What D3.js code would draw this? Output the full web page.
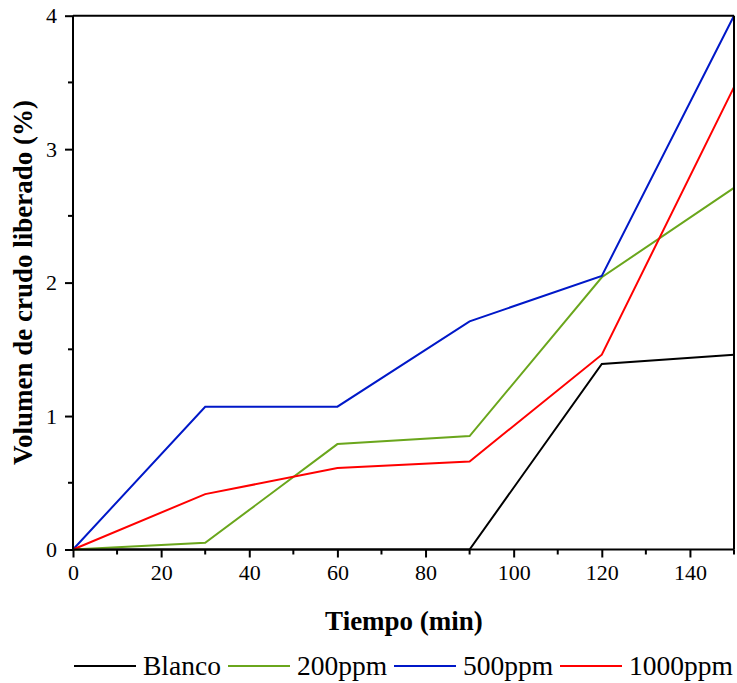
<!DOCTYPE html>
<html>
<head>
<meta charset="utf-8">
<script src="https://cdn.jsdelivr.net/npm/d3@7"></script>
<style>
  body { margin: 0; background: #fff; }
  svg text { font-family: "Liberation Serif", "Times New Roman", serif; }
</style>
</head>
<body>
<svg id="svg"></svg>
<script>
// time points (min)
let tiempo = [0, 30, 60, 90, 120, 150];
let blanco = [0, 0, 0, 0, 1.39, 1.46];
let ppm200 = [0, 0.05, 0.79, 0.85, 2.04, 2.71];
let ppm500 = [0, 1.07, 1.07, 1.71, 2.05, 4.0];
let ppm1000 = [0, 0.415, 0.61, 0.66, 1.46, 3.465];
let seriesNames = ["Blanco", "200ppm", "500ppm", "1000ppm"];
let seriesColors = ["#000000", "#6aa61c", "#0018c8", "#ff0000"];
let xTicks = [0, 20, 40, 60, 80, 100, 120, 140];
let yTicks = [0, 1, 2, 3, 4];

function sketch() {
    let svg = d3.select("#svg")
        .attr("width", 737)
        .attr("height", 683);

    let marginLeft = 73, marginTop = 15.7;
    let plotW = 661, plotH = 533.8;

    let x = d3.scaleLinear().domain([0, 150]).range([marginLeft, marginLeft + plotW]);
    let y = d3.scaleLinear().domain([0, 4]).range([marginTop + plotH, marginTop]);

    let g = svg.append("g");

    // lines
    let allSeries = [blanco, ppm200, ppm500, ppm1000];
    let line = d3.line()
        .x((d, i) => x(tiempo[i]))
        .y((d) => y(d));

    g.selectAll("path.serie")
        .data(allSeries)
        .enter()
        .append("path")
        .attr("class", "serie")
        .attr("d", (d) => line(d))
        .attr("fill", "none")
        .attr("stroke", (d, i) => seriesColors[i])
        .attr("stroke-width", 2);

    // box top + right
    g.append("line")
        .attr("x1", x(0)).attr("x2", x(150))
        .attr("y1", y(4)).attr("y2", y(4))
        .attr("stroke", "black").attr("stroke-width", 2);
    g.append("line")
        .attr("x1", x(150)).attr("x2", x(150))
        .attr("y1", y(4)).attr("y2", y(0))
        .attr("stroke", "black").attr("stroke-width", 2);

    // minor ticks
    let xMinor = d3.range(10, 151, 20);
    let yMinor = [0.5, 1.5, 2.5, 3.5];

    let xAxis = d3.axisBottom(x).tickValues(xTicks).tickSize(8).tickPadding(7).tickFormat(d3.format("d"));
    let gx = g.append("g").attr("transform", `translate(0,${y(0)})`).call(xAxis);
    gx.append("g").selectAll("line")
        .data(xMinor).enter().append("line")
        .attr("x1", (d) => x(d)).attr("x2", (d) => x(d))
        .attr("y1", 0).attr("y2", 5)
        .attr("stroke", "black").attr("stroke-width", 2);

    let yAxis = d3.axisLeft(y).tickValues(yTicks).tickSize(8).tickPadding(8).tickFormat(d3.format("d"));
    let gy = g.append("g").attr("transform", `translate(${x(0)},0)`).call(yAxis);
    gy.append("g").selectAll("line")
        .data(yMinor).enter().append("line")
        .attr("x1", 0).attr("x2", -5)
        .attr("y1", (d) => y(d)).attr("y2", (d) => y(d))
        .attr("stroke", "black").attr("stroke-width", 2);

    [gx, gy].forEach((ax) => {
        ax.select(".domain").attr("stroke-width", 2);
        ax.selectAll(".tick line").attr("stroke-width", 2);
        ax.selectAll(".tick text")
            .attr("font-family", "Liberation Serif")
            .attr("font-size", 22)
            .attr("fill", "black");
    });
    gx.select(".domain").attr("d", `M${x(0)},0H${x(150)}`);
    gy.select(".domain").attr("d", `M0,${y(0)}V${y(4)}`);

    // axis titles
    svg.append("text")
        .attr("x", 404)
        .attr("y", 630)
        .attr("text-anchor", "middle")
        .attr("font-size", 27)
        .attr("font-weight", "bold")
        .text("Tiempo (min)");

    svg.append("text")
        .attr("transform", `translate(32,${marginTop + plotH / 2}) rotate(-90)`)
        .attr("text-anchor", "middle")
        .attr("font-size", 27)
        .attr("font-weight", "bold")
        .text("Volumen de crudo liberado (%)");

    // legend
    let legendX = [74, 228, 394, 560];
    let legend = svg.selectAll("g.legend")
        .data(seriesNames)
        .enter()
        .append("g")
        .attr("class", "legend")
        .attr("transform", (d, i) => `translate(${legendX[i]},666)`);
    legend.append("line")
        .attr("x1", 0).attr("x2", 62)
        .attr("y1", 0).attr("y2", 0)
        .attr("stroke", (d, i) => seriesColors[i])
        .attr("stroke-width", 2);
    legend.append("text")
        .attr("x", 69)
        .attr("y", 9)
        .attr("font-size", 27.5)
        .text((d) => d);
}
sketch();
</script>
</body>
</html>
